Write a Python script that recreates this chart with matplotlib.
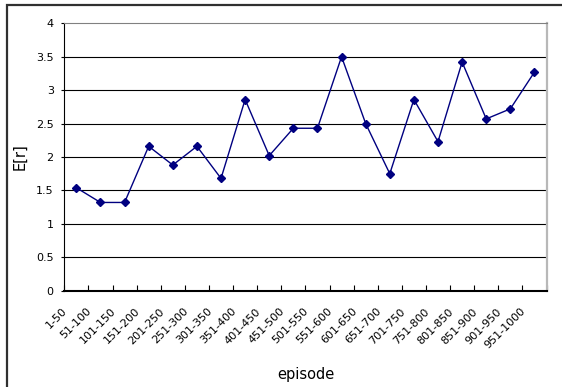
import matplotlib
matplotlib.use("Agg")
import matplotlib.pyplot as plt
from matplotlib.transforms import ScaledTranslation, blended_transform_factory
from matplotlib.patches import Rectangle
import numpy as np

plt.rcParams['font.family'] = ['DejaVu Sans']

episodes = ["1-50", "51-100", "101-150", "151-200", "201-250", "251-300",
            "301-350", "351-400", "401-450", "451-500", "501-550", "551-600",
            "601-650", "651-700", "701-750", "751-800", "801-850", "851-900",
            "901-950", "951-1000"]
expected_reward = [1.54, 1.32, 1.32, 2.16, 1.88, 2.16, 1.68, 2.86, 2.02, 2.43,
                   2.43, 3.50, 2.50, 1.75, 2.86, 2.23, 3.42, 2.57, 2.72, 3.27]
y_ticks = [0, 0.5, 1, 1.5, 2, 2.5, 3, 3.5, 4]
y_tick_labels = ["0", "0.5", "1", "1.5", "2", "2.5", "3", "3.5", "4"]

W, H = 562, 387
DPI = 100
fig = plt.figure(figsize=(W / DPI, H / DPI), dpi=DPI)
fig.patch.set_facecolor("white")

# outer chart frame (only top and left edges fall inside the canvas)
fig.add_artist(Rectangle((7 / W, -0.05), 1.2, (H - 4.7) / H + 0.05,
                         transform=fig.transFigure, fill=False,
                         edgecolor="#303030", lw=1.6))

left, right, top, bottom = 64.3, 546.5, 23.3, 290.7
ax = fig.add_axes([left / W, 1 - bottom / H, (right - left) / W, (bottom - top) / H])

n = len(episodes)
x = np.arange(n) + 0.5
ax.plot(x, expected_reward, color="#000080", lw=1.0, marker="D",
        markersize=4.5, markerfacecolor="#000080", markeredgecolor="#000080",
        zorder=3)

ax.set_xlim(0, n)
ax.set_ylim(0, 4)

# horizontal gridlines
for v in y_ticks[1:-1]:
    ax.axhline(v, color="#000000", lw=0.8, zorder=1)

ax.set_yticks(y_ticks)
ax.set_yticklabels(y_tick_labels, fontsize=8)
ax.tick_params(axis="y", direction="out", length=2.3, width=0.8, pad=5.3,
               color="#000000")

ax.set_xticks(np.arange(n + 1))
ax.set_xticklabels([])
ax.tick_params(axis="x", direction="in", length=4, width=0.8, color="#000000")

for side in ("left", "bottom"):
    ax.spines[side].set_color("#000000")
ax.spines["left"].set_linewidth(0.8)
ax.spines["bottom"].set_linewidth(1.5)
ax.spines["top"].set_color("#808080")
ax.spines["top"].set_linewidth(0.8)
ax.spines["right"].set_color("#b8b8b8")
ax.spines["right"].set_linewidth(1.6)

# rotated category labels, their upper end sitting just left of the category
trans = blended_transform_factory(ax.transData, ax.transAxes)
offset = ScaledTranslation(-10.5 / DPI, -19 / DPI, fig.dpi_scale_trans)
for xi, lab in zip(x, episodes):
    ax.text(xi, 0, lab, transform=trans + offset, rotation=45,
            rotation_mode="anchor", ha="right", va="center", fontsize=8)

fig.text(20 / W, 1 - 157 / H, "E[r]", rotation=90, ha="center", va="center",
         fontsize=10.5)
fig.text(306 / W, 1 - 374 / H, "episode", ha="center", va="center",
         fontsize=10.5)

fig.savefig("out.png", dpi=DPI)
